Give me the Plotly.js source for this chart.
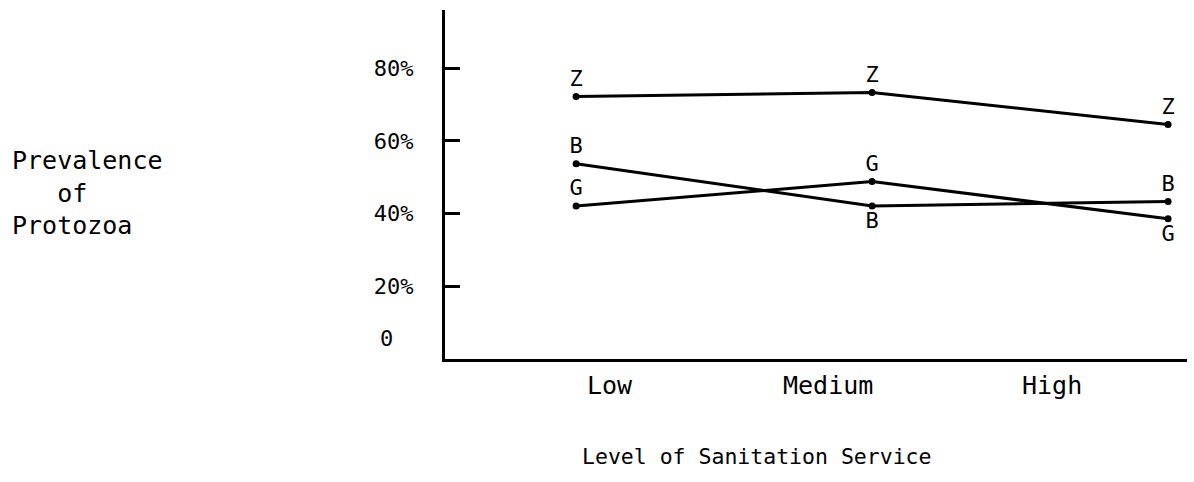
<!DOCTYPE html>
<html>
<head>
<meta charset="utf-8">
<script src="https://cdn.plot.ly/plotly-3.0.1.min.js"></script>
<style>
html,body{margin:0;padding:0;background:#fff;}
#chart{width:1194px;height:482px;}
</style>
</head>
<body>
<div id="chart"></div>
<script>
// Data
const categories = ["Low", "Medium", "High"];
const seriesNames = ["Z", "B", "G"];
const zValues = [72.2, 73.3, 64.5];
const bValues = [53.7, 42.1, 43.3];
const gValues = [42.1, 48.8, 38.6];
const yTickVals = [20, 40, 60, 80];
const yTickText = ["20%", "40%", "60%", "80%"];
const zeroLabel = "0";
const xTitle = "Level of Sanitation Service";
const yTitleLines = ["Prevalence", "\u00A0\u00A0\u00A0of", "Protozoa"];

const FONT = "DejaVu Sans Mono, Liberation Mono, monospace";

const labelPos = {
  Z: ["top center", "top center", "top center"],
  B: ["top center", "bottom center", "top center"],
  G: ["top center", "top center", "bottom center"]
};
const valuesBy = {Z: zValues, B: bValues, G: gValues};

const traces = seriesNames.map(n => ({
  type: "scatter",
  mode: "lines+markers+text",
  x: categories,
  y: valuesBy[n],
  text: categories.map(() => n),
  textposition: labelPos[n],
  textfont: {family: FONT, size: 22, color: "#000"},
  line: {color: "#000", width: 3},
  marker: {color: "#000", size: 7},
  name: n,
  showlegend: false,
  hoverinfo: "x+y+name"
}));

const plotLeft = 445, plotRight = 1187, plotTop = 10, plotBottom = 359;
const W = 1194, H = 482;
const pw = plotRight - plotLeft, ph = plotBottom - plotTop;
const px = v => (v - plotLeft) / pw;
const py = v => (plotBottom - v) / ph;

const xLabelCenters = [610, 828, 1052];
const annotations = categories.map((c, i) => ({
  text: c, xref: "paper", yref: "paper",
  x: px(xLabelCenters[i]), y: py(385),
  xanchor: "center", yanchor: "middle", showarrow: false,
  font: {family: FONT, size: 25, color: "#000"}
}));
annotations.push({
  text: xTitle, xref: "paper", yref: "paper",
  x: px(580), y: py(457), xanchor: "left", yanchor: "middle",
  showarrow: false, font: {family: FONT, size: 21.5, color: "#000"}
});
annotations.push({
  text: yTitleLines.join("<br>"), xref: "paper", yref: "paper",
  x: px(10), y: py(193), xanchor: "left", yanchor: "middle", align: "left",
  showarrow: false, font: {family: FONT, size: 25, color: "#000"}
});
annotations.push({
  text: zeroLabel, xref: "paper", yref: "paper",
  x: px(395), y: py(338), xanchor: "right", yanchor: "middle",
  showarrow: false, font: {family: FONT, size: 22, color: "#000"}
});

const layout = {
  width: W, height: H,
  margin: {l: plotLeft, r: W - plotRight, t: plotTop, b: H - plotBottom, pad: 0},
  paper_bgcolor: "#fff", plot_bgcolor: "#fff",
  font: {family: FONT, color: "#000"},
  xaxis: {
    type: "category",
    range: [-0.443, 2.064],
    showline: true, linecolor: "#000", linewidth: 3,
    showgrid: false, zeroline: false, ticks: "", showticklabels: false
  },
  yaxis: {
    range: [0, 96],
    showline: true, linecolor: "#000", linewidth: 3,
    showgrid: false, zeroline: false,
    ticks: "inside", ticklen: 15, tickwidth: 3, tickcolor: "#000",
    tickmode: "array", tickvals: yTickVals, ticktext: yTickText,
    ticklabelstandoff: 24,
    tickfont: {family: FONT, size: 22, color: "#000"}
  },
  annotations: annotations
};

Plotly.newPlot("chart", traces, layout, {staticPlot: true, displayModeBar: false});
</script>
</body>
</html>
